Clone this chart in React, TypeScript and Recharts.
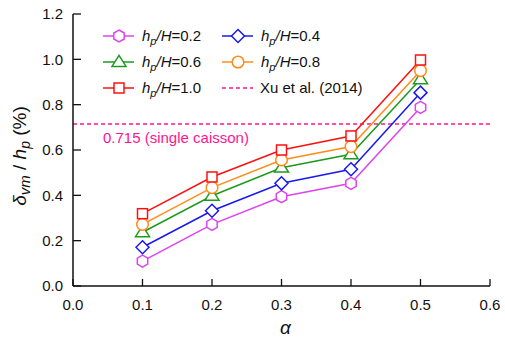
import React from 'react';
import { LineChart, Line, XAxis, YAxis, ReferenceLine, Legend } from 'recharts';

const alphas = [0.1, 0.2, 0.3, 0.4, 0.5];
const s02 = [0.11, 0.272, 0.394, 0.453, 0.788];
const s04 = [0.171, 0.332, 0.453, 0.515, 0.853];
const s06 = [0.237, 0.398, 0.522, 0.581, 0.912];
const s08 = [0.272, 0.434, 0.556, 0.615, 0.95];
const s10 = [0.319, 0.481, 0.6, 0.662, 0.997];
const xTicks = [0, 0.1, 0.2, 0.3, 0.4, 0.5, 0.6];
const yTicks = [0, 0.2, 0.4, 0.6, 0.8, 1.0, 1.2];
const refValue = 0.715;
const refLabel = '0.715 (single caisson)';
const refName = 'Xu et al. (2014)';

const series = [
  { key: 's02', ratio: '0.2', values: s02, color: '#DD44EE', shape: 'hexagon' },
  { key: 's04', ratio: '0.4', values: s04, color: '#1A1AF0', shape: 'diamond' },
  { key: 's06', ratio: '0.6', values: s06, color: '#1E9A1E', shape: 'triangle' },
  { key: 's08', ratio: '0.8', values: s08, color: '#FF8C1A', shape: 'circle' },
  { key: 's10', ratio: '1.0', values: s10, color: '#FF1010', shape: 'square' },
];
const refColor = '#FF1493';

const data = alphas.map((a, i) => {
  const row: any = { x: a };
  series.forEach((s) => (row[s.key] = s.values[i]));
  return row;
});

const FONT = '"Liberation Sans", Arial, sans-serif';

function Marker({ cx, cy, shape, color }: any) {
  const sw = 1.5;
  if (shape === 'hexagon') {
    const r = 6;
    const pts = [-90, -30, 30, 90, 150, 210]
      .map((d) => {
        const t = (d * Math.PI) / 180;
        return `${cx + r * Math.cos(t)},${cy + r * Math.sin(t)}`;
      })
      .join(' ');
    return <polygon points={pts} fill="#fff" stroke={color} strokeWidth={sw} />;
  }
  if (shape === 'diamond') {
    const r = 6.5;
    return (
      <polygon
        points={`${cx},${cy - r} ${cx + r},${cy} ${cx},${cy + r} ${cx - r},${cy}`}
        fill="#fff"
        stroke={color}
        strokeWidth={sw}
      />
    );
  }
  if (shape === 'triangle') {
    const w = 7, h = 11;
    return (
      <polygon
        points={`${cx},${cy - h * 0.6} ${cx + w},${cy + h * 0.4} ${cx - w},${cy + h * 0.4}`}
        fill="#fff"
        stroke={color}
        strokeWidth={sw}
      />
    );
  }
  if (shape === 'circle') {
    return <circle cx={cx} cy={cy} r={5.8} fill="#fff" stroke={color} strokeWidth={sw} />;
  }
  return <rect x={cx - 5} y={cy - 5} width={10} height={10} fill="#fff" stroke={color} strokeWidth={sw} />;
}

function makeDot(shape: string, color: string) {
  return (props: any) => {
    if (props.cx == null || props.cy == null) return <g key={props.index} />;
    return (
      <g key={`${shape}-${props.index}`}>
        <Marker cx={props.cx} cy={props.cy} shape={shape} color={color} />
      </g>
    );
  };
}

function LegendContent() {
  const rows = [
    [series[0], series[1]],
    [series[2], series[3]],
    [series[4], null],
  ];
  const rowY = [36, 62, 88];
  const colX = [103, 222];
  return (
    <svg width={505} height={110} style={{ position: 'absolute', left: 0, top: 0 }}>
      {rows.map((row, ri) =>
        [0, 1].map((ci) => {
          const s = row[ci];
          const x0 = colX[ci];
          const y = rowY[ri];
          if (!s) {
            return (
              <g key={`ref-${ri}-${ci}`}>
                <line x1={x0} x2={x0 + 31} y1={y} y2={y} stroke={refColor} strokeWidth={1.5} strokeDasharray="4 3" />
                <text x={x0 + 38} y={y + 5} fontSize={15} fontFamily={FONT} fill="#111">
                  {refName}
                </text>
              </g>
            );
          }
          return (
            <g key={`${ri}-${ci}`}>
              <line x1={x0} x2={x0 + 31} y1={y} y2={y} stroke={s.color} strokeWidth={1.5} />
              <Marker cx={x0 + 16} cy={y} shape={s.shape} color={s.color} />
              <text x={x0 + 39} y={y + 5} fontSize={15} fontFamily={FONT} fill="#111">
                <tspan fontStyle="italic">h</tspan>
                <tspan fontStyle="italic" fontSize={11} dy={4}>p</tspan>
                <tspan fontStyle="italic" dy={-4}>/H</tspan>
                <tspan>={s.ratio}</tspan>
              </text>
            </g>
          );
        })
      )}
    </svg>
  );
}

function YLabel(props: any) {
  const vb = props.viewBox || { x: 0, y: 14, width: 73, height: 272 };
  const cx = 26;
  const cy = vb.y + vb.height / 2 + 6;
  return (
    <text
      x={cx}
      y={cy}
      transform={`rotate(-90, ${cx}, ${cy})`}
      textAnchor="middle"
      fontSize={19}
      fontFamily={FONT}
      fill="#111"
    >
      <tspan fontStyle="italic">δ</tspan>
      <tspan fontStyle="italic" fontSize={15} dy={4}>vm</tspan>
      <tspan dy={-4}> / </tspan>
      <tspan fontStyle="italic">h</tspan>
      <tspan fontStyle="italic" fontSize={14} dy={4}>p</tspan>
      <tspan dy={-4}> (%)</tspan>
    </text>
  );
}

function XLabel(props: any) {
  const vb = props.viewBox || { x: 73, y: 286, width: 417, height: 30 };
  return (
    <text x={vb.x + vb.width / 2 + 4} y={334} textAnchor="middle" fontSize={19} fontFamily={FONT} fontStyle="italic" fill="#111">
      α
    </text>
  );
}

function RefLabel(props: any) {
  const vb = props.viewBox || { x: 73, y: 124 };
  return (
    <text x={vb.x + 30} y={vb.y + 19} fontSize={15} fontFamily={FONT} fill={refColor}>
      {refLabel}
    </text>
  );
}

export default function App() {
  const tickStyle = { fontSize: 15, fontFamily: FONT, fill: '#111' };
  return (
    <div style={{ position: 'absolute', left: 0, top: 0, width: 505, height: 338, background: '#fff' }}>
      <LineChart width={505} height={338} data={data} margin={{ top: 14, right: 15, bottom: 22, left: 0 }}>
        <XAxis
          xAxisId="b"
          dataKey="x"
          type="number"
          domain={[0, 0.6]}
          ticks={xTicks}
          tickFormatter={(v: number) => v.toFixed(1)}
          height={30}
          tickSize={-7}
          tickMargin={20}
          tick={tickStyle}
          axisLine={{ stroke: '#111', strokeWidth: 1.5 }}
          tickLine={{ stroke: '#111', strokeWidth: 1.3 }}
          allowDataOverflow
          label={<XLabel />}
        />
        <XAxis
          xAxisId="t"
          dataKey="x"
          type="number"
          domain={[0, 0.6]}
          orientation="top"
          height={0}
          tick={false}
          tickLine={false}
          axisLine={{ stroke: '#111', strokeWidth: 1.5 }}
        />
        <YAxis
          yAxisId="l"
          type="number"
          domain={[0, 1.2]}
          ticks={yTicks}
          tickFormatter={(v: number) => v.toFixed(1)}
          width={73}
          tickSize={-8}
          tickMargin={18}
          tick={tickStyle}
          axisLine={{ stroke: '#111', strokeWidth: 1.5 }}
          tickLine={{ stroke: '#111', strokeWidth: 1.3 }}
          label={<YLabel />}
        />
        <YAxis
          yAxisId="r"
          orientation="right"
          type="number"
          domain={[0, 1.2]}
          width={0}
          tick={false}
          tickLine={false}
          axisLine={{ stroke: '#111', strokeWidth: 1.5 }}
        />
        <ReferenceLine
          xAxisId="b"
          yAxisId="l"
          y={refValue}
          stroke={refColor}
          strokeWidth={1.5}
          strokeDasharray="4 3"
          label={<RefLabel />}
        />
        {series.map((s) => (
          <Line
            key={s.key}
            xAxisId="b"
            yAxisId="l"
            dataKey={s.key}
            stroke={s.color}
            strokeWidth={1.5}
            isAnimationActive={false}
            dot={makeDot(s.shape, s.color)}
            activeDot={false}
          />
        ))}
        <Legend
          layout="horizontal"
          verticalAlign="middle"
          align="center"
          content={() => <LegendContent />}
          wrapperStyle={{ position: 'absolute', left: 0, top: 0, width: 505, height: 110, pointerEvents: 'none' }}
        />
      </LineChart>
    </div>
  );
}
